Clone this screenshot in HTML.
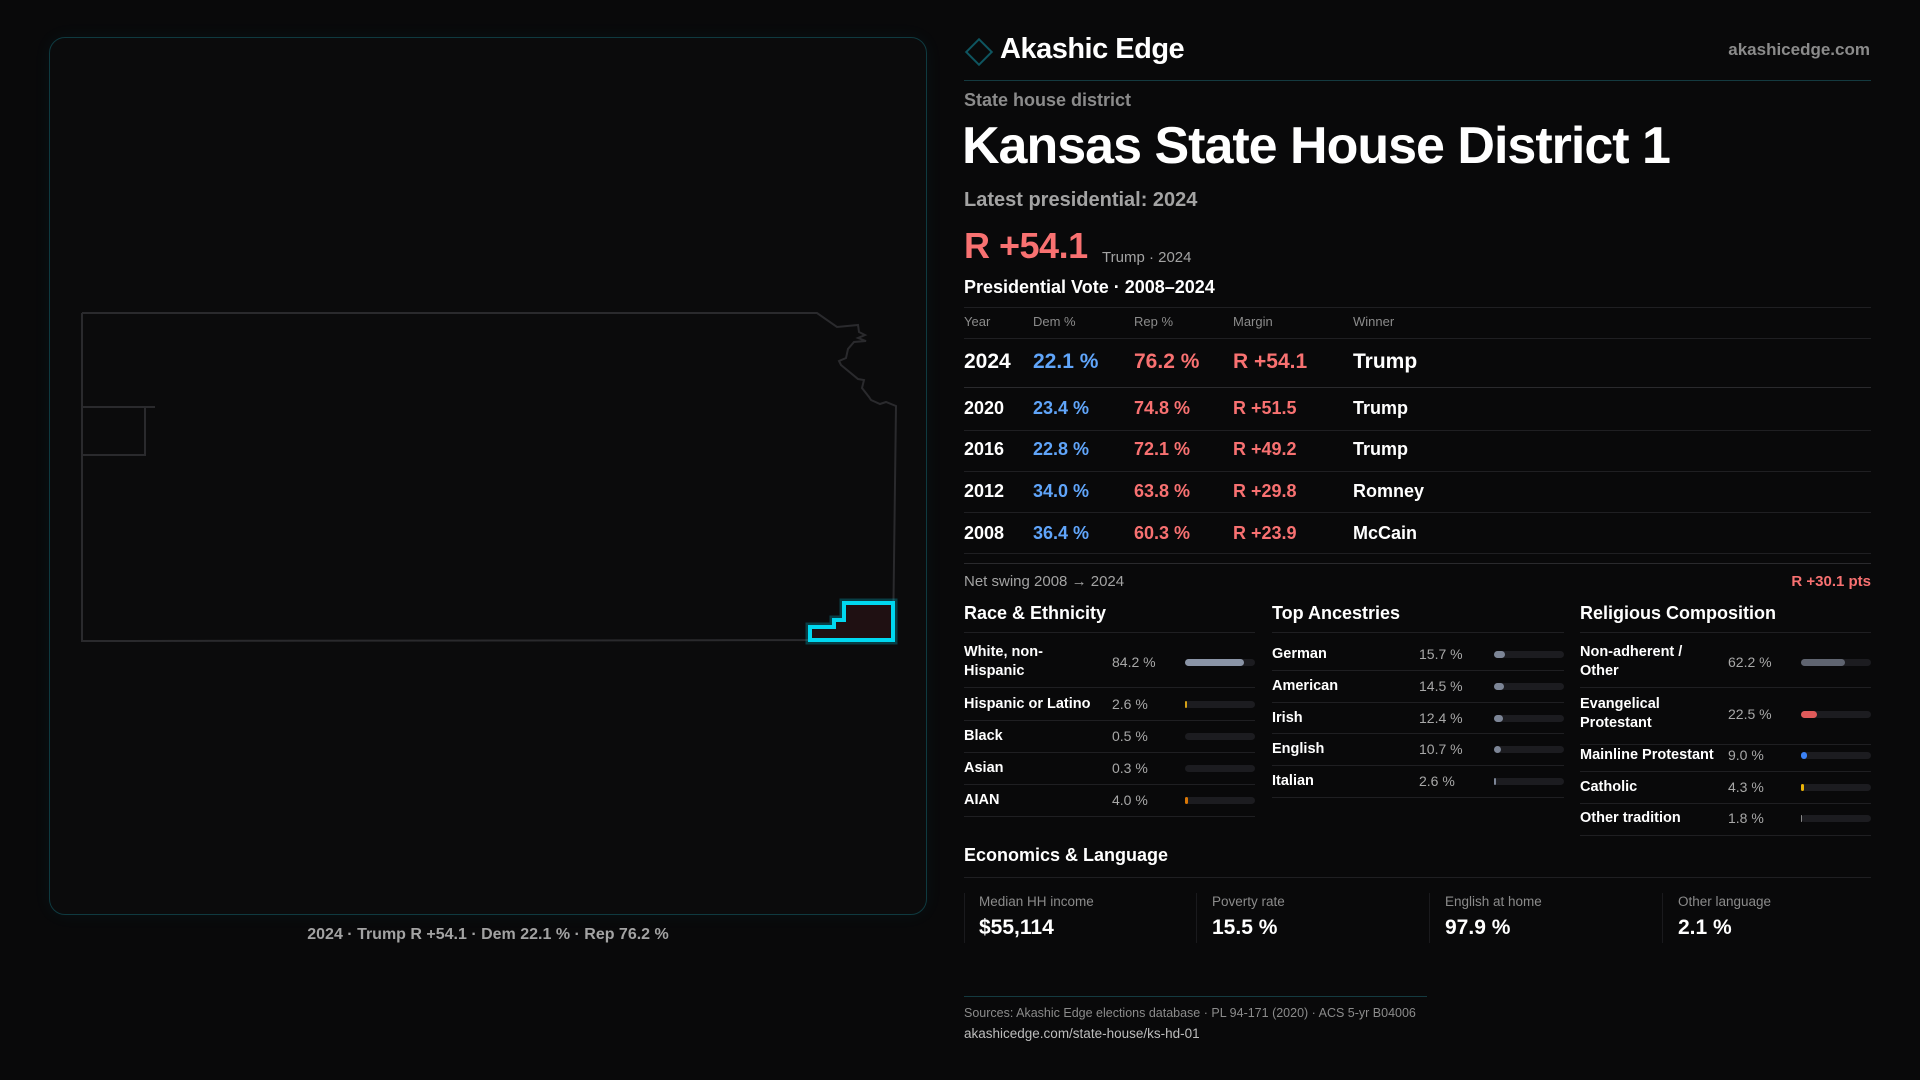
<!DOCTYPE html>
<html><head><meta charset="utf-8"><style>
*{margin:0;padding:0;box-sizing:border-box}
body{width:1920px;height:1080px;background:#09090a;font-family:"Liberation Sans",sans-serif;color:#fff;position:relative;overflow:hidden}
.a{position:absolute;white-space:nowrap}
.g{color:#8b8b8b}
.r{color:#f87171}
.b{color:#60a5fa}
.ln{position:absolute;height:1px;background:#1f1f22}
.trk{position:absolute;height:7px;border-radius:4px;background:#1c1c20}
.fill{position:absolute;left:0;top:0;height:7px;border-radius:4px}
.lbl{font-size:14.5px;font-weight:bold;line-height:19px}
.pct{font-size:14px;color:#a8a8a8}
</style></head><body>
<div class="a" style="left:49px;top:37px;width:878px;height:878px;border:1px solid #0f3a40;border-radius:16px;background:#0b0b0c;box-shadow:0 0 18px rgba(0,200,230,0.05)"></div>
<svg class="a" style="left:0;top:0" width="960" height="1080">
<polyline fill="none" stroke="#2a2a2d" stroke-width="2" points="82,313 817,313 837,327 858,325 859,332 865,335 858,338 866,341 854,342 848,349 846,358 839,361 841,365 858,379 864,380 862,388 869,397 871,400 880,404 886,402 896,406 893,640 82,641 82,313"/>
<polyline fill="none" stroke="#2a2a2d" stroke-width="2" points="82,407 155,407"/>
<polyline fill="none" stroke="#2a2a2d" stroke-width="2" points="145,407 145,455 82,455"/>
<polygon points="844,603 893,603 893,640 810,640 810,627 834,627 834,620 844,620" fill="#1f1012" stroke="#00d8f0" stroke-width="9" stroke-opacity="0.25"/>
<polygon points="844,603 893,603 893,640 810,640 810,627 834,627 834,620 844,620" fill="#1f1012" stroke="#00d8f0" stroke-width="4"/>
</svg>
<div class="a" style="left:0;width:976px;top:926px;text-align:center;font-size:16px;font-weight:bold;color:#a3a3a3">2024 · Trump R +54.1 · Dem 22.1 % · Rep 76.2 %</div>

<div class="a" style="left:969px;top:42px;width:20px;height:20px;border:2px solid #0e5560;transform:rotate(45deg)"></div>
<div class="a" style="left:1000px;top:33px;font-size:29px;font-weight:bold;letter-spacing:-0.5px">Akashic Edge</div>
<div class="a g" style="right:50px;top:40px;font-size:17px;font-weight:bold">akashicedge.com</div>
<div class="ln" style="left:964px;width:907px;top:80px;background:#143a40"></div>
<div class="a g" style="left:964px;top:90px;font-size:18px;font-weight:bold">State house district</div>
<div class="a" style="left:962px;top:116px;font-size:52px;font-weight:bold;letter-spacing:-1px">Kansas State House District 1</div>
<div class="a" style="left:964px;top:189px;font-size:20px;font-weight:bold;color:#a3a3a3">Latest presidential: 2024</div>
<div class="a r" style="left:964px;top:225px;font-size:36px;font-weight:bold;letter-spacing:-0.5px">R +54.1</div>
<div class="a" style="left:1102px;top:249px;font-size:15px;color:#a3a3a3">Trump · 2024</div>
<div class="a" style="left:964px;top:277px;font-size:18px;font-weight:bold">Presidential Vote · 2008–2024</div>
<div class="ln" style="left:964px;width:907px;top:307px"></div>
<div class="a g" style="left:964px;top:314px;font-size:13px">Year</div>
<div class="a g" style="left:1033px;top:314px;font-size:13px">Dem %</div>
<div class="a g" style="left:1134px;top:314px;font-size:13px">Rep %</div>
<div class="a g" style="left:1233px;top:314px;font-size:13px">Margin</div>
<div class="a g" style="left:1353px;top:314px;font-size:13px">Winner</div>
<div class="ln" style="left:964px;width:907px;top:338px"></div>
<div style="font-size:21px;font-weight:bold">
<div class="a" style="left:964px;top:350px">2024</div><div class="a b" style="left:1033px;top:350px">22.1 %</div><div class="a r" style="left:1134px;top:350px">76.2 %</div><div class="a r" style="left:1233px;top:350px">R +54.1</div><div class="a" style="left:1353px;top:350px">Trump</div>
</div>
<div class="ln" style="left:964px;width:907px;top:387px;background:#2a2a2d"></div>
<div style="font-size:18px;font-weight:600">
<div class="a" style="left:964px;top:398px">2020</div><div class="a b" style="left:1033px;top:398px">23.4 %</div><div class="a r" style="left:1134px;top:398px">74.8 %</div><div class="a r" style="left:1233px;top:398px">R +51.5</div><div class="a" style="left:1353px;top:398px">Trump</div>
<div class="a" style="left:964px;top:439px">2016</div><div class="a b" style="left:1033px;top:439px">22.8 %</div><div class="a r" style="left:1134px;top:439px">72.1 %</div><div class="a r" style="left:1233px;top:439px">R +49.2</div><div class="a" style="left:1353px;top:439px">Trump</div>
<div class="a" style="left:964px;top:481px">2012</div><div class="a b" style="left:1033px;top:481px">34.0 %</div><div class="a r" style="left:1134px;top:481px">63.8 %</div><div class="a r" style="left:1233px;top:481px">R +29.8</div><div class="a" style="left:1353px;top:481px">Romney</div>
<div class="a" style="left:964px;top:523px">2008</div><div class="a b" style="left:1033px;top:523px">36.4 %</div><div class="a r" style="left:1134px;top:523px">60.3 %</div><div class="a r" style="left:1233px;top:523px">R +23.9</div><div class="a" style="left:1353px;top:523px">McCain</div>
</div>
<div class="ln" style="left:964px;width:907px;top:430px"></div>
<div class="ln" style="left:964px;width:907px;top:471px"></div>
<div class="ln" style="left:964px;width:907px;top:512px"></div>
<div class="ln" style="left:964px;width:907px;top:553px"></div>
<div class="ln" style="left:964px;width:907px;top:563px;background:#2a2a2d"></div>
<div class="a" style="left:964px;top:573px;font-size:15px;color:#a3a3a3">Net swing 2008 → 2024</div>
<div class="a r" style="right:49px;top:573px;font-size:15px;font-weight:bold">R +30.1 pts</div>

<div class="a" style="left:964px;top:603px;font-size:18px;font-weight:bold">Race &amp; Ethnicity</div>
<div class="a" style="left:1272px;top:603px;font-size:18px;font-weight:bold">Top Ancestries</div>
<div class="a" style="left:1580px;top:603px;font-size:18px;font-weight:bold">Religious Composition</div>
<div class="ln" style="left:964px;width:291px;top:632px"></div>
<div class="ln" style="left:1272px;width:292px;top:632px"></div>
<div class="ln" style="left:1580px;width:291px;top:632px"></div>

<div class="a lbl" style="left:964px;top:643px">White, non-<br>Hispanic</div><div class="a pct" style="left:1112px;top:654px">84.2 %</div><div class="trk" style="left:1185px;top:659px;width:70px"><div class="fill" style="width:59px;background:#8a94a6"></div></div>
<div class="ln" style="left:964px;width:291px;top:687px"></div>
<div class="a lbl" style="left:964px;top:695px">Hispanic or Latino</div><div class="a pct" style="left:1112px;top:696px">2.6 %</div><div class="trk" style="left:1185px;top:701px;width:70px"><div class="fill" style="width:2px;background:#d4a017"></div></div>
<div class="ln" style="left:964px;width:291px;top:720px"></div>
<div class="a lbl" style="left:964px;top:727px">Black</div><div class="a pct" style="left:1112px;top:728px">0.5 %</div><div class="trk" style="left:1185px;top:733px;width:70px"></div>
<div class="ln" style="left:964px;width:291px;top:752px"></div>
<div class="a lbl" style="left:964px;top:759px">Asian</div><div class="a pct" style="left:1112px;top:760px">0.3 %</div><div class="trk" style="left:1185px;top:765px;width:70px"></div>
<div class="ln" style="left:964px;width:291px;top:784px"></div>
<div class="a lbl" style="left:964px;top:791px">AIAN</div><div class="a pct" style="left:1112px;top:792px">4.0 %</div><div class="trk" style="left:1185px;top:797px;width:70px"><div class="fill" style="width:3px;background:#d97706"></div></div>
<div class="ln" style="left:964px;width:291px;top:816px"></div>

<div class="a lbl" style="left:1272px;top:645px">German</div><div class="a pct" style="left:1419px;top:646px">15.7 %</div><div class="trk" style="left:1494px;top:651px;width:70px"><div class="fill" style="width:11px;background:#7c8596"></div></div>
<div class="ln" style="left:1272px;width:292px;top:670px"></div>
<div class="a lbl" style="left:1272px;top:677px">American</div><div class="a pct" style="left:1419px;top:678px">14.5 %</div><div class="trk" style="left:1494px;top:683px;width:70px"><div class="fill" style="width:10px;background:#7c8596"></div></div>
<div class="ln" style="left:1272px;width:292px;top:702px"></div>
<div class="a lbl" style="left:1272px;top:709px">Irish</div><div class="a pct" style="left:1419px;top:710px">12.4 %</div><div class="trk" style="left:1494px;top:715px;width:70px"><div class="fill" style="width:9px;background:#7c8596"></div></div>
<div class="ln" style="left:1272px;width:292px;top:733px"></div>
<div class="a lbl" style="left:1272px;top:740px">English</div><div class="a pct" style="left:1419px;top:741px">10.7 %</div><div class="trk" style="left:1494px;top:746px;width:70px"><div class="fill" style="width:7px;background:#7c8596"></div></div>
<div class="ln" style="left:1272px;width:292px;top:765px"></div>
<div class="a lbl" style="left:1272px;top:772px">Italian</div><div class="a pct" style="left:1419px;top:773px">2.6 %</div><div class="trk" style="left:1494px;top:778px;width:70px"><div class="fill" style="width:2px;background:#7c8596"></div></div>
<div class="ln" style="left:1272px;width:292px;top:797px"></div>

<div class="a lbl" style="left:1580px;top:643px">Non-adherent /<br>Other</div><div class="a pct" style="left:1728px;top:654px">62.2 %</div><div class="trk" style="left:1801px;top:659px;width:70px"><div class="fill" style="width:44px;background:#5f6470"></div></div>
<div class="ln" style="left:1580px;width:291px;top:687px"></div>
<div class="a lbl" style="left:1580px;top:695px">Evangelical<br>Protestant</div><div class="a pct" style="left:1728px;top:706px">22.5 %</div><div class="trk" style="left:1801px;top:711px;width:70px"><div class="fill" style="width:16px;background:#e05a5a"></div></div>
<div class="ln" style="left:1580px;width:291px;top:744px"></div>
<div class="a lbl" style="left:1580px;top:746px">Mainline Protestant</div><div class="a pct" style="left:1728px;top:747px">9.0 %</div><div class="trk" style="left:1801px;top:752px;width:70px"><div class="fill" style="width:6px;background:#3b82f6"></div></div>
<div class="ln" style="left:1580px;width:291px;top:771px"></div>
<div class="a lbl" style="left:1580px;top:778px">Catholic</div><div class="a pct" style="left:1728px;top:779px">4.3 %</div><div class="trk" style="left:1801px;top:784px;width:70px"><div class="fill" style="width:3px;background:#eab308"></div></div>
<div class="ln" style="left:1580px;width:291px;top:803px"></div>
<div class="a lbl" style="left:1580px;top:809px">Other tradition</div><div class="a pct" style="left:1728px;top:810px">1.8 %</div><div class="trk" style="left:1801px;top:815px;width:70px"><div class="fill" style="width:1px;background:#888"></div></div>
<div class="ln" style="left:1580px;width:291px;top:835px"></div>

<div class="a" style="left:964px;top:845px;font-size:18px;font-weight:bold">Economics &amp; Language</div>
<div class="ln" style="left:964px;width:907px;top:877px"></div>
<div class="a" style="left:964px;top:893px;width:1px;height:50px;background:#1a1a1d"></div>
<div class="a" style="left:1196px;top:893px;width:1px;height:50px;background:#1a1a1d"></div>
<div class="a" style="left:1429px;top:893px;width:1px;height:50px;background:#1a1a1d"></div>
<div class="a" style="left:1662px;top:893px;width:1px;height:50px;background:#1a1a1d"></div>
<div class="a g" style="left:979px;top:894px;font-size:13.5px">Median HH income</div>
<div class="a" style="left:979px;top:916px;font-size:21px;font-weight:bold">$55,114</div>
<div class="a g" style="left:1212px;top:894px;font-size:13.5px">Poverty rate</div>
<div class="a" style="left:1212px;top:916px;font-size:21px;font-weight:bold">15.5 %</div>
<div class="a g" style="left:1445px;top:894px;font-size:13.5px">English at home</div>
<div class="a" style="left:1445px;top:916px;font-size:21px;font-weight:bold">97.9 %</div>
<div class="a g" style="left:1678px;top:894px;font-size:13.5px">Other language</div>
<div class="a" style="left:1678px;top:916px;font-size:21px;font-weight:bold">2.1 %</div>

<div class="ln" style="left:964px;width:463px;top:996px;background:#143a40"></div>
<div class="a g" style="left:964px;top:1006px;font-size:12.5px">Sources: Akashic Edge elections database · PL 94-171 (2020) · ACS 5-yr B04006</div>
<div class="a" style="left:964px;top:1026px;font-size:13.5px;color:#bdbdbd">akashicedge.com/state-house/ks-hd-01</div>
</body></html>
